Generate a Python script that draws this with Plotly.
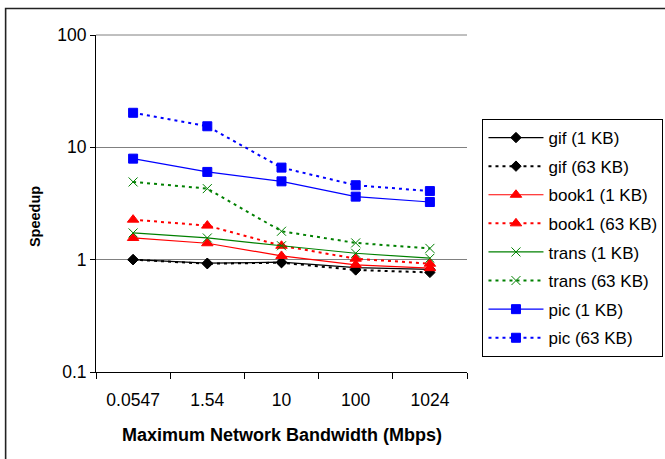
import plotly.graph_objects as go

# Bandwidth categories (Mbps) on the x axis
bandwidth = ["0.0547", "1.54", "10", "100", "1024"]

# Speedup per data set and block size
gif_1kb = [1.00, 0.93, 0.95, 0.85, 0.82]
gif_63kb = [1.00, 0.92, 0.94, 0.81, 0.77]
book1_1kb = [1.56, 1.40, 1.08, 0.90, 0.84]
book1_63kb = [2.27, 2.01, 1.33, 1.02, 0.92]
trans_1kb = [1.73, 1.56, 1.33, 1.14, 1.03]
trans_63kb = [4.92, 4.29, 1.79, 1.41, 1.26]
pic_1kb = [7.93, 6.04, 4.98, 3.64, 3.26]
pic_63kb = [20.3, 15.4, 6.6, 4.6, 4.08]

y_ticks = [0.1, 1, 10, 100]
y_tick_text = ["0.1", "1", "10", "100"]

FONT = "Arial, Liberation Sans, sans-serif"

series = [
    ("gif (1 KB)", gif_1kb, "#000000", "solid", "diamond", 8),
    ("gif (63 KB)", gif_63kb, "#000000", "dot", "diamond", 8),
    ("book1 (1 KB)", book1_1kb, "#FF0000", "solid", "triangle-up", 10),
    ("book1 (63 KB)", book1_63kb, "#FF0000", "dot", "triangle-up", 10),
    ("trans (1 KB)", trans_1kb, "#008000", "solid", "x-thin", 9),
    ("trans (63 KB)", trans_63kb, "#008000", "dot", "x-thin", 9),
    ("pic (1 KB)", pic_1kb, "#0000FF", "solid", "square", 9),
    ("pic (63 KB)", pic_63kb, "#0000FF", "dot", "square", 9),
]

fig = go.Figure()
for i, (name, vals, color, dash, symbol, size) in enumerate(series):
    dotted = dash == "dot"
    fig.add_trace(go.Scatter(
        x=bandwidth,
        y=vals,
        name=name,
        legendgroup=f"g{i}",
        mode="lines+markers",
        line=dict(color=color, width=2 if dotted else 1.2,
                  dash="3px,4px" if dotted else "solid"),
        marker=dict(symbol=symbol, size=size, color=color,
                    line=dict(color=color, width=1)),
    ))

# plot area in pixels: x 96..467.5, y 35..372
L, R, T, B = 96, 197.5, 35, 87
W, H = 665, 459
pw, ph = W - L - R, H - T - B


def px_x(x):
    return (x - L) / pw


def px_y(y):
    return (H - B - y) / ph


fig.update_layout(
    width=W,
    height=H,
    margin=dict(l=L, r=R, t=T, b=B, autoexpand=False),
    paper_bgcolor="white",
    plot_bgcolor="white",
    font=dict(family=FONT, color="black", size=16),
    showlegend=True,
    legend=dict(
        x=px_x(483), y=px_y(119),
        xanchor="left", yanchor="top",
        bgcolor="white",
        bordercolor="black",
        borderwidth=1,
        font=dict(family=FONT, size=17, color="black"),
        traceorder="grouped",
        tracegroupgap=3.5,
        itemwidth=55,
    ),
    xaxis=dict(
        type="category",
        range=[-0.5, 4.5],
        tickson="boundaries",
        ticks="outside",
        ticklen=6,
        tickcolor="black",
        ticklabelstandoff=12,
        showline=True,
        linecolor="black",
        linewidth=1,
        showgrid=False,
        tickfont=dict(family=FONT, size=17.5),
        fixedrange=True,
    ),
    yaxis=dict(
        type="log",
        range=[-1, 2],
        tickvals=y_ticks,
        ticktext=y_tick_text,
        ticks="outside",
        ticklen=5,
        tickcolor="black",
        showline=True,
        linecolor="black",
        linewidth=1,
        showgrid=True,
        gridcolor="#808080",
        gridwidth=1,
        tickfont=dict(family=FONT, size=17.5),
        fixedrange=True,
    ),
    annotations=[
        dict(text="<b>Maximum Network Bandwidth (Mbps)</b>",
             x=px_x(282), y=px_y(435), xref="paper", yref="paper",
             showarrow=False, font=dict(family=FONT, size=18),
             xanchor="center", yanchor="middle"),
        dict(text="<b>Speedup</b>",
             x=px_x(35), y=px_y(217), xref="paper", yref="paper",
             showarrow=False, textangle=-90, font=dict(family=FONT, size=14.5),
             xanchor="center", yanchor="middle"),
    ],
    shapes=[
        # gridline along the top of the plot (100)
        dict(type="line", xref="paper", yref="paper",
             x0=0, x1=1, y0=1, y1=1,
             line=dict(color="#808080", width=1), layer="below"),
        dict(type="rect", xref="paper", yref="paper",
             x0=px_x(5.5), y0=px_y(8.5), x1=px_x(680), y1=px_y(480),
             line=dict(color="#222222", width=1.6), layer="below"),
    ],
)

fig.write_html("out.html")
